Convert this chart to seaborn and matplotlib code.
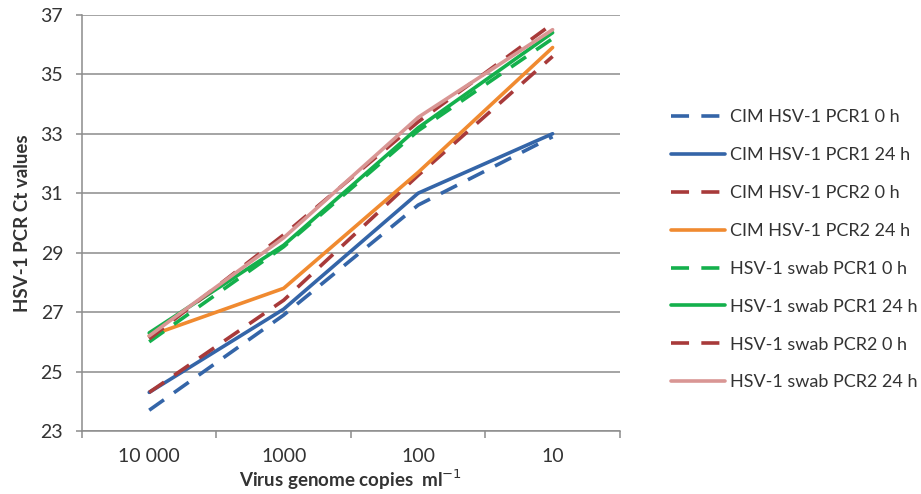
import matplotlib
matplotlib.use("Agg")
import matplotlib.pyplot as plt
import seaborn as sns
import pandas as pd

categories = ["10 000", "1000", "100", "10"]
series_names = [
    "CIM HSV-1 PCR1 0 h",
    "CIM HSV-1 PCR1 24 h",
    "CIM HSV-1 PCR2 0 h",
    "CIM HSV-1 PCR2 24 h",
    "HSV-1 swab PCR1 0 h",
    "HSV-1 swab PCR1 24 h",
    "HSV-1 swab PCR2 0 h",
    "HSV-1 swab PCR2 24 h",
]
cim_pcr1_0h = [23.7, 26.9, 30.6, 32.9]
cim_pcr1_24h = [24.3, 27.1, 31.0, 33.0]
cim_pcr2_0h = [24.3, 27.4, 31.6, 35.6]
cim_pcr2_24h = [26.2, 27.8, 31.7, 35.9]
swab_pcr1_0h = [26.0, 29.2, 33.1, 36.2]
swab_pcr1_24h = [26.3, 29.25, 33.2, 36.4]
swab_pcr2_0h = [26.1, 29.6, 33.4, 36.7]
swab_pcr2_24h = [26.2, 29.5, 33.55, 36.5]
values = [cim_pcr1_0h, cim_pcr1_24h, cim_pcr2_0h, cim_pcr2_24h,
          swab_pcr1_0h, swab_pcr1_24h, swab_pcr2_0h, swab_pcr2_24h]

colors = ["#3465A8", "#3465A8", "#A83A3A", "#F08A30",
          "#14B04C", "#14B04C", "#A83A3A", "#D99694"]
dashed = [True, False, True, False, True, False, True, False]

rows = []
for name, vals in zip(series_names, values):
    for i, v in enumerate(vals):
        rows.append({"pos": i, "Ct": v, "series": name})
df = pd.DataFrame(rows)

sns.set_theme(style="white")
plt.rcParams["font.family"] = ["Lato", "DejaVu Sans"]

fig = plt.figure(figsize=(9.21, 4.94), dpi=100)
ax = fig.add_axes([0.089, 0.1275, 0.584, 0.8425])

palette = dict(zip(series_names, colors))
dash_map = {n: ((5, 3.4) if d else "") for n, d in zip(series_names, dashed)}
sns.lineplot(data=df, x="pos", y="Ct", hue="series", style="series",
             palette=palette, dashes=dash_map, hue_order=series_names,
             style_order=series_names, linewidth=2.6, ax=ax, legend=True,
             markers=False)

ax.set_xlim(-0.5, 3.5)
ax.set_ylim(23, 37)
ax.set_yticks(range(23, 38, 2))
ax.set_xticks(range(4))
ax.set_xticklabels(categories)
ax.set_xticks([-0.5, 0.5, 1.5, 2.5, 3.5], minor=True)
ax.tick_params(axis="x", which="major", length=0, labelsize=14, pad=12, colors="#333333")
ax.tick_params(axis="x", which="minor", length=5, width=1.1, color="#8c8c8c", direction="out")
ax.tick_params(axis="y", length=4.5, width=1.1, color="#8c8c8c", direction="out",
               labelsize=14, pad=9, labelcolor="#333333")
ax.tick_params(axis="y", left=True)
ax.tick_params(axis="x", which="minor", bottom=True)
ax.grid(axis="y", color="#8c8c8c", linewidth=1.1)
ax.set_axisbelow(True)
for s in ["top", "right"]:
    ax.spines[s].set_visible(False)
for s in ["left", "bottom"]:
    ax.spines[s].set_color("#8c8c8c")
    ax.spines[s].set_linewidth(1.1)

ax.set_xlabel("Virus genome copies  ml$^{-1}$", fontsize=13.5, fontweight="bold",
              labelpad=2, color="#333333")
ax.set_ylabel("HSV-1 PCR Ct values", fontsize=13.5, fontweight="bold",
              labelpad=7, color="#333333")

handles, labels = ax.get_legend_handles_labels()
ax.get_legend().remove()
leg = fig.legend(handles, labels, loc="center left",
                 bbox_to_anchor=(0.719, 0.494), frameon=False, borderpad=0,
                 fontsize=13, handlelength=3.0, labelspacing=1.21,
                 handletextpad=0.25)
for t in leg.get_texts():
    t.set_color("#333333")

fig.savefig("out.png", dpi=100)
